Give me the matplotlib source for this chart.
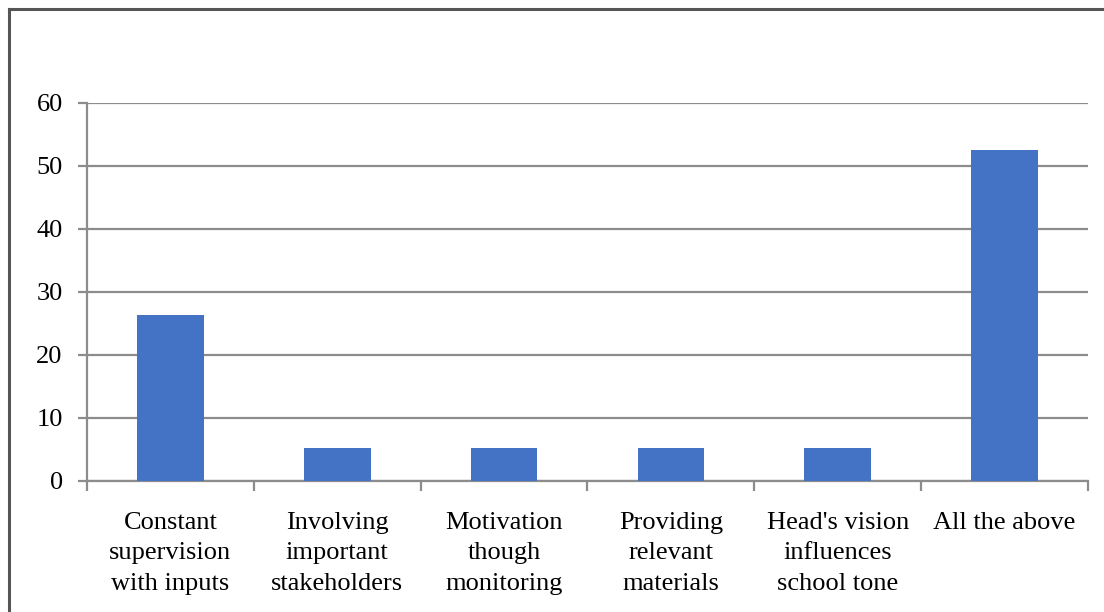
import numpy as np
import matplotlib
matplotlib.use("Agg")
import matplotlib.pyplot as plt
from matplotlib.lines import Line2D

# responses (% of 19 respondents)
categories = ["Constant\nsupervision\nwith inputs",
              "Involving\nimportant\nstakeholders",
              "Motivation\nthough\nmonitoring",
              "Providing\nrelevant\nmaterials",
              "Head's vision\ninfluences\nschool tone",
              "All the above"]
values = [26.3, 5.3, 5.3, 5.3, 5.3, 52.6]
yticks = [0, 10, 20, 30, 40, 50, 60]

plt.rcParams['font.family'] = ['Liberation Serif', 'DejaVu Serif']

fig = plt.figure(figsize=(11.04, 6.12), dpi=100)
ax = fig.add_axes([0.0788, 0.2141, 0.9067, 0.6176])

x = np.arange(len(categories))
ax.bar(x, values, width=0.4, color='#4472C4', zorder=3)

grid_c = '#8c8c8c'
ax.set_xlim(-0.5, len(categories) - 0.5)
ax.set_ylim(0, 60)
ax.set_yticks(yticks)
ax.yaxis.grid(True, color=grid_c, linewidth=1.6, zorder=0)

for s in ['top', 'right']:
    ax.spines[s].set_visible(False)
for s in ['left', 'bottom']:
    ax.spines[s].set_color(grid_c)
    ax.spines[s].set_linewidth(1.6)

ax.set_xticks(x)
ax.set_xticklabels(categories, fontsize=19, linespacing=1.52, va='top')
ax.set_xticks(np.arange(-0.5, len(categories)), minor=True)
ax.tick_params(axis='x', which='major', length=0, pad=22)
ax.tick_params(axis='x', which='minor', length=7, width=1.6, color=grid_c)
ax.tick_params(axis='y', length=6.5, width=1.6, color=grid_c, pad=11, labelsize=19)

# chart frame (top and left edges)
frame_c = '#555555'
fig.add_artist(Line2D([9 / 1104, 9 / 1104], [0, 1 - 9 / 612], transform=fig.transFigure,
                      color=frame_c, linewidth=2.2, solid_capstyle='projecting'))
fig.add_artist(Line2D([9 / 1104, 1], [1 - 9 / 612, 1 - 9 / 612], transform=fig.transFigure,
                      color=frame_c, linewidth=2.2, solid_capstyle='projecting'))

fig.savefig("out.png", dpi=100)
